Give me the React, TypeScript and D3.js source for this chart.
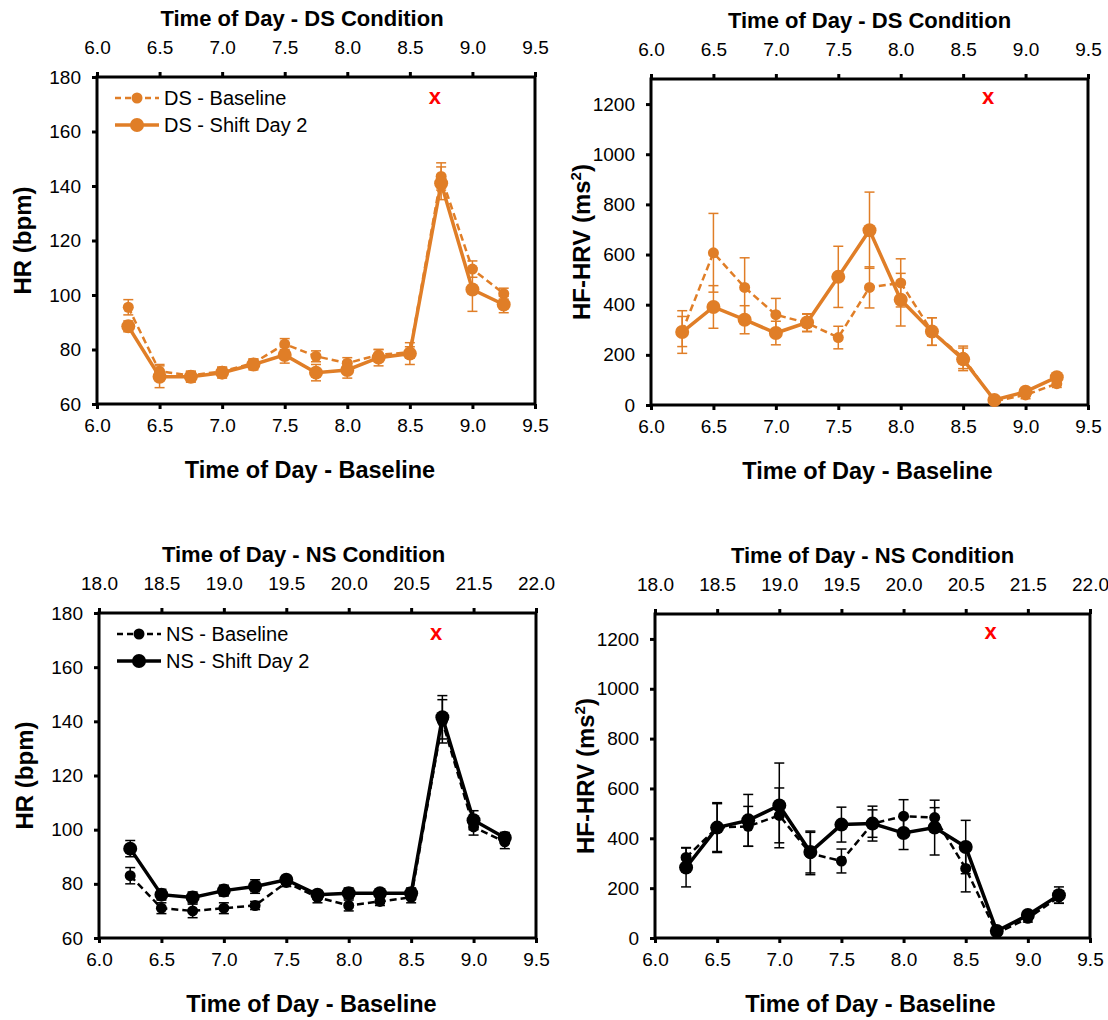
import * as d3 from 'd3';
import React, { useRef, useEffect } from 'react';

const times = [6.25, 6.5, 6.75, 7.0, 7.25, 7.5, 7.75, 8.0, 8.25, 8.5, 8.75, 9.0, 9.25];
const bottomTicks = [6.0, 6.5, 7.0, 7.5, 8.0, 8.5, 9.0, 9.5];
const dsTopLabels = ['6.0', '6.5', '7.0', '7.5', '8.0', '8.5', '9.0', '9.5'];
const nsTopLabels = ['18.0', '18.5', '19.0', '19.5', '20.0', '20.5', '21.5', '22.0'];
const hrTicks = [60, 80, 100, 120, 140, 160, 180];
const hrvTicks = [0, 200, 400, 600, 800, 1000, 1200];

// DS condition
const hrDsBase = [95.5, 72, 70.5, 72, 75, 82, 77.5, 75, 78, 79, 143.5, 109.5, 100.5];
const hrDsBaseErr = [2.8, 2.5, 1.5, 1.5, 1.5, 2, 2, 2, 2, 2, 5, 3, 2];
const hrDsShift = [88.5, 70, 70, 71.5, 74.5, 78, 71.5, 72.5, 77, 78.5, 141, 102, 96.5];
const hrDsShiftErr = [2, 4, 2, 2, 2, 3, 3, 3, 3, 4, 6, 8, 3];
const hrvDsBase = [293, 607, 469, 360, 327, 269, 469, 487, 293, 190, 15, 40, 85];
const hrvDsBaseErr = [60, 157, 118, 65, 35, 45, 82, 96, 55, 45, 10, 15, 15];
const hrvDsShift = [291, 391, 340, 287, 329, 511, 697, 420, 293, 182, 20, 53, 111];
const hrvDsShiftErr = [85, 85, 56, 47, 35, 122, 152, 105, 55, 45, 10, 12, 12];

// NS condition
const hrNsBase = [83, 71, 70, 71, 72, 80.5, 75, 72, 73.5, 75, 140, 101, 95.5];
const hrNsBaseErr = [3, 2, 2.5, 2, 1.5, 1.5, 2, 2, 1.5, 2, 8, 3, 2.5];
const hrNsShift = [93, 76, 75, 77.5, 79, 81.5, 76, 76.5, 76.5, 76.5, 141.5, 103.5, 97];
const hrNsShiftErr = [3, 2, 2, 2, 2.5, 1.5, 1.5, 2, 1.5, 2, 8, 3.5, 2];
const hrvNsBase = [323, 443, 448, 492, 339, 309, 459, 489, 483, 279, 20, 79, 165];
const hrvNsBaseErr = [40, 100, 80, 110, 85, 48, 55, 66, 40, 94, 8, 15, 25];
const hrvNsShift = [283, 443, 472, 532, 345, 455, 459, 421, 443, 365, 28, 92, 172];
const hrvNsShiftErr = [78, 96, 104, 170, 84, 70, 70, 66, 110, 107, 8, 15, 33];

// red "x" annotation
const markTime = 8.7;
const markHR = 173;
const markHRV = 1230;

const orange = '#E07E27';
const font = '"Liberation Sans", Arial, sans-serif';

type Panel = {
  left: number; top: number; w: number; h: number;
  title: string; topLabels: string[]; yLabel: string; hrv: boolean;
  color: string; legend?: [string, string];
  base: number[]; baseErr: number[]; shift: number[]; shiftErr: number[];
};

const panels: Panel[] = [
  { left: 97, top: 77, w: 438, h: 327, title: 'Time of Day - DS Condition', topLabels: dsTopLabels, yLabel: 'HR (bpm)', hrv: false,
    color: orange, legend: ['DS - Baseline', 'DS - Shift Day 2'], base: hrDsBase, baseErr: hrDsBaseErr, shift: hrDsShift, shiftErr: hrDsShiftErr },
  { left: 651, top: 79, w: 437, h: 326, title: 'Time of Day - DS Condition', topLabels: dsTopLabels, yLabel: 'HF-HRV', hrv: true,
    color: orange, base: hrvDsBase, baseErr: hrvDsBaseErr, shift: hrvDsShift, shiftErr: hrvDsShiftErr },
  { left: 99, top: 613, w: 437, h: 325, title: 'Time of Day - NS Condition', topLabels: nsTopLabels, yLabel: 'HR (bpm)', hrv: false,
    color: '#000', legend: ['NS - Baseline', 'NS - Shift Day 2'], base: hrNsBase, baseErr: hrNsBaseErr, shift: hrNsShift, shiftErr: hrNsShiftErr },
  { left: 655, top: 614, w: 435, h: 324, title: 'Time of Day - NS Condition', topLabels: nsTopLabels, yLabel: 'HF-HRV', hrv: true,
    color: '#000', base: hrvNsBase, baseErr: hrvNsBaseErr, shift: hrvNsShift, shiftErr: hrvNsShiftErr },
];

function App() {
  const ref = useRef<SVGSVGElement>(null);

  useEffect(() => {
    const svg = d3.select(ref.current);
    svg.selectAll('*').remove();

    panels.forEach((p) => {
      const g = svg.append('g').attr('transform', `translate(${p.left},${p.top})`);
      const x = d3.scaleLinear().domain([6, 9.5]).range([0, p.w]);
      const y = d3.scaleLinear().domain(p.hrv ? [0, 1300] : [60, 180]).range([p.h, 0]);

      // axes
      const styleAxis = (a: any) => {
        a.select('.domain').remove();
        a.selectAll('line').attr('stroke', '#000').attr('stroke-width', 3);
        a.selectAll('text').attr('font-family', font).attr('font-size', 19).attr('fill', '#000');
      };
      g.append('g')
        .call(d3.axisLeft(y).tickValues(p.hrv ? hrvTicks : hrTicks).tickFormat(d3.format('d')).tickSize(5).tickPadding(11).tickSizeOuter(0))
        .call(styleAxis);
      g.append('g')
        .attr('transform', `translate(0,${p.h})`)
        .call(d3.axisBottom(x).tickValues(bottomTicks).tickFormat(d3.format('.1f')).tickSize(5).tickPadding(10).tickSizeOuter(0))
        .call(styleAxis);
      g.append('g')
        .call(d3.axisTop(x).tickValues(bottomTicks).tickFormat((_d, i) => p.topLabels[i]).tickSize(5).tickPadding(18).tickSizeOuter(0))
        .call(styleAxis);

      g.append('rect')
        .attr('width', p.w).attr('height', p.h)
        .attr('fill', 'none').attr('stroke', '#000').attr('stroke-width', 3);

      // titles
      g.append('text')
        .attr('x', p.w / 2 - (p.hrv ? 0 : 14)).attr('y', -51)
        .attr('text-anchor', 'middle').attr('font-family', font).attr('font-weight', 'bold').attr('font-size', 22)
        .text(p.title);
      g.append('text')
        .attr('x', p.w / 2 - (p.hrv ? 2 : 6)).attr('y', p.h + 74)
        .attr('text-anchor', 'middle').attr('font-family', font).attr('font-weight', 'bold').attr('font-size', 23.5)
        .text('Time of Day - Baseline');
      const yt = g.append('text')
        .attr('transform', `translate(${p.hrv ? -61 : -66},${p.h / 2}) rotate(-90)`)
        .attr('text-anchor', 'middle').attr('font-family', font).attr('font-weight', 'bold').attr('font-size', 24)
        .text(p.yLabel);
      if (p.hrv) {
        yt.append('tspan').text(' (ms');
        yt.append('tspan').attr('font-size', 15).attr('dy', -9).text('2');
        yt.append('tspan').attr('dy', 9).text(')');
      }

      // series
      const series = [
        { vals: p.base, errs: p.baseErr, dashed: true },
        { vals: p.shift, errs: p.shiftErr, dashed: false },
      ];
      series.forEach((s) => {
        const pts = times.map((t, i) => ({ t, v: s.vals[i], e: s.errs[i] }));
        const eb = g.append('g').attr('stroke', p.color).attr('stroke-width', 1.5);
        pts.forEach((d) => {
          const lo = y(Math.max(d.v - d.e, p.hrv ? 0 : 60));
          const hi = y(d.v + d.e);
          eb.append('line').attr('x1', x(d.t)).attr('x2', x(d.t)).attr('y1', lo).attr('y2', hi);
          [lo, hi].forEach((yy) =>
            eb.append('line').attr('x1', x(d.t) - 5).attr('x2', x(d.t) + 5).attr('y1', yy).attr('y2', yy));
        });
        const line = d3.line<{ t: number; v: number }>().x((d) => x(d.t)).y((d) => y(d.v));
        g.append('path')
          .datum(pts)
          .attr('d', line)
          .attr('fill', 'none')
          .attr('stroke', p.color)
          .attr('stroke-width', s.dashed ? 2.5 : 3.5)
          .attr('stroke-dasharray', s.dashed ? '7,4' : null);
        g.append('g')
          .selectAll('circle')
          .data(pts)
          .join('circle')
          .attr('cx', (d) => x(d.t))
          .attr('cy', (d) => y(d.v))
          .attr('r', s.dashed ? 5.5 : 7)
          .attr('fill', p.color);
      });

      // red x
      g.append('text')
        .attr('x', x(markTime)).attr('y', y(p.hrv ? markHRV : markHR))
        .attr('text-anchor', 'middle').attr('dy', '0.35em')
        .attr('font-family', font).attr('font-weight', 'bold').attr('font-size', 22).attr('fill', '#FF0000')
        .text('x');

      // legend
      if (p.legend) {
        p.legend.forEach((label, i) => {
          const ly = 21 + i * 27;
          const dashed = i === 0;
          g.append('line')
            .attr('x1', 18).attr('x2', 62).attr('y1', ly).attr('y2', ly)
            .attr('stroke', p.color).attr('stroke-width', dashed ? 2.5 : 3.5)
            .attr('stroke-dasharray', dashed ? '6,4' : null);
          g.append('circle').attr('cx', 40).attr('cy', ly).attr('r', dashed ? 5.5 : 7).attr('fill', p.color);
          g.append('text')
            .attr('x', 67).attr('y', ly).attr('dy', '0.35em')
            .attr('font-family', font).attr('font-size', 20)
            .text(label);
        });
      }
    });
  }, []);

  return (
    <svg ref={ref} width={1108} height={1020} style={{ position: 'absolute', left: 0, top: 0, background: '#fff' }} />
  );
}

export default App;
